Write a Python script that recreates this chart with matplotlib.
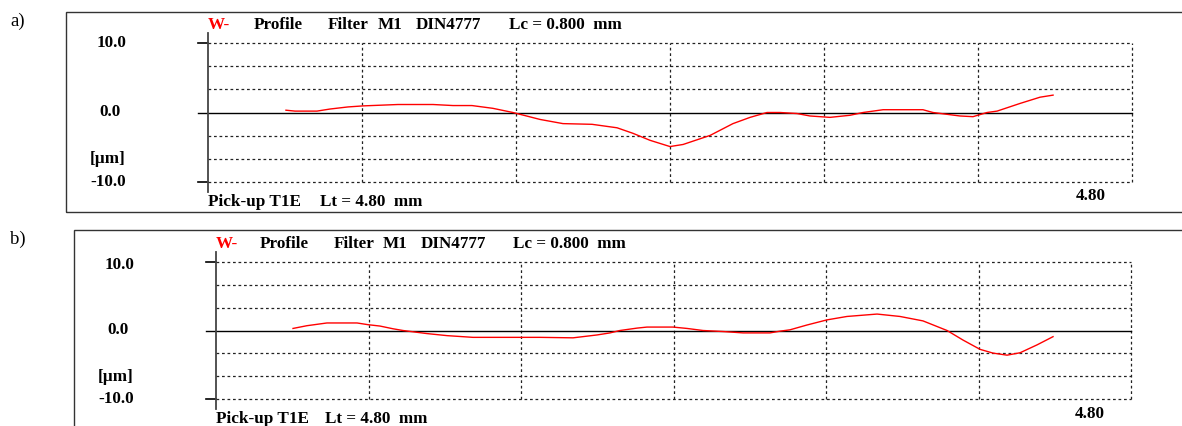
import numpy as np
import matplotlib.pyplot as plt
from matplotlib.patches import Rectangle

W, H = 1182, 426

# profile a) : position [mm], height [um]
a_x = [0.405, 0.452, 0.566, 0.634, 0.727, 0.805, 0.987, 1.169, 1.273, 1.371,
       1.480, 1.584, 1.725, 1.844, 1.995, 2.125, 2.208, 2.296, 2.400, 2.468,
       2.608, 2.727, 2.816, 2.904, 2.972, 3.060, 3.127, 3.231, 3.335, 3.403,
       3.507, 3.714, 3.766, 3.906, 3.974, 4.047, 4.099, 4.218, 4.322, 4.390]
a_y = [0.33, 0.2, 0.2, 0.5, 0.8, 0.95, 1.15, 1.15, 1.0, 1.0,
       0.6, 0.0, -1.0, -1.6, -1.7, -2.2, -3.0, -4.0, -4.9, -4.6,
       -3.3, -1.6, -0.7, 0.0, 0.0, -0.15, -0.5, -0.7, -0.4, 0.0,
       0.4, 0.4, 0.0, -0.5, -0.6, 0.0, 0.2, 1.3, 2.2, 2.5]

# profile b)
b_x = [0.404, 0.477, 0.582, 0.740, 0.797, 0.860, 0.929, 0.981, 1.107, 1.212,
       1.348, 1.595, 1.700, 1.873, 1.999, 2.067, 2.119, 2.209, 2.261, 2.397,
       2.471, 2.555, 2.660, 2.765, 2.906, 2.958, 3.011, 3.100, 3.205, 3.310,
       3.468, 3.588, 3.709, 3.835, 3.919, 4.008, 4.076, 4.150, 4.218, 4.307, 4.391]
b_y = [0.3, 0.7, 1.1, 1.1, 0.85, 0.65, 0.25, 0.0, -0.45, -0.75,
       -1.0, -1.0, -1.0, -1.07, -0.65, -0.35, 0.0, 0.35, 0.5, 0.5,
       0.3, 0.0, -0.15, -0.35, -0.35, -0.1, 0.1, 0.8, 1.55, 2.05,
       2.4, 2.05, 1.4, 0.0, -1.4, -2.75, -3.3, -3.6, -3.25, -2.1, -0.9]

x_ticks = [0.8, 1.6, 2.4, 3.2, 4.0, 4.8]
y_grid = [-10, -20 / 3, -10 / 3, 10 / 3, 20 / 3, 10]
y_labels = ["10.0", "0.0", "[µm]", "-10.0"]
title_parts = ["Profile", "Filter", "M1", "DIN4777", "Lc = 0.800  mm"]

FONT = "Liberation Serif"
FS = 12.3


def fx(x):
    return x / W


def fy(y):
    return 1 - y / H


fig = plt.figure(figsize=(W / 100, H / 100), dpi=100)


def panel(letter, xs, ys, box, plot, lab, title, bottom, endlab):
    # box = (left, top, bottom) in px ; plot = (x0, x1, ytop, ybot)
    bl, bt, bb = box
    fig.patches.append(Rectangle((fx(bl), fy(bb)), fx(W + 20 - bl), (bb - bt) / H,
                                 transform=fig.transFigure, fill=False,
                                 ec="#333333", lw=1.0))
    fig.text(fx(10), fy(bt + 9), letter, fontsize=13.5, family=FONT, va="center")

    x0, x1, yt, yb = plot
    ax = fig.add_axes([fx(x0), fy(yb), (x1 - x0) / W, (yb - yt) / H])
    ax.set_xlim(0, 4.8)
    ax.set_ylim(-10, 10)
    ax.axis("off")
    for g in y_grid:
        ax.axhline(g, color="#222222", lw=0.9, ls=(0, (2.2, 2.2)), clip_on=False)
    for g in x_ticks:
        ax.axvline(g, color="#222222", lw=0.9, ls=(0, (2.2, 2.2)), clip_on=False)
    px_mm = 4.8 / (x1 - x0)
    ax.plot([-10 * px_mm, 4.8], [0, 0], color="black", lw=1.0, clip_on=False)
    for t in (-10, 10):
        ax.plot([-10 * px_mm, 0], [t, t], color="black", lw=1.2, clip_on=False)
    px_um = 20 / (yb - yt)
    ax.plot([0, 0], [-10 - 10 * px_um, 10 + 10 * px_um], color="#444444", lw=1.3,
            clip_on=False)
    ax.plot(xs, ys, color="#ff0000", lw=1.0, clip_on=False)

    for (t, x, y) in zip(y_labels, lab[0], lab[1]):
        fig.text(fx(x), fy(y), t, fontsize=FS, family=FONT, weight="bold",
                 ha="center", va="center")
    ty = title[0]
    fig.text(fx(x0), fy(ty), "W-", color="#ff0000", fontsize=FS, family=FONT,
             weight="bold", va="center")
    for t, x in zip(title_parts, title[1]):
        fig.text(fx(x), fy(ty), t, fontsize=FS, family=FONT, weight="bold", va="center")
    by = bottom[0]
    fig.text(fx(x0), fy(by), "Pick-up T1E", fontsize=FS, family=FONT, weight="bold",
             va="center")
    fig.text(fx(bottom[1]), fy(by), "Lt = 4.80  mm", fontsize=FS, family=FONT,
             weight="bold", va="center")
    fig.text(fx(endlab[0]), fy(endlab[1]), "4.80", fontsize=FS, family=FONT,
             weight="bold", ha="center", va="center")


panel("a)", a_x, a_y, (66, 12, 212), (208, 1132, 43, 182),
      ([111, 110, 108, 108], [43, 112, 159, 182]),
      (25, [254, 328, 378, 416, 509]), (202, 320), (1091, 196))
panel("b)", b_x, b_y, (74, 230, 440), (216, 1131, 262, 399),
      ([119, 118, 116, 116], [265, 330, 377, 399]),
      (244, [260, 334, 383, 421, 513]), (419, 325), (1090, 414))

fig.savefig("out.png", dpi=100)
